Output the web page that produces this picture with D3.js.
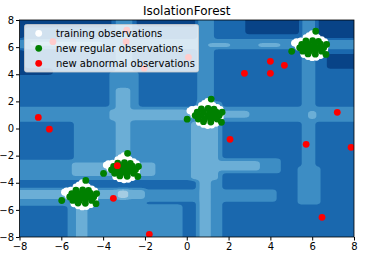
<!DOCTYPE html>
<html>
<head>
<meta charset="utf-8">
<script src="https://cdn.jsdelivr.net/npm/d3@7"></script>
<style>
body { margin: 0; background: #fff; }
text { font-family: "DejaVu Sans", sans-serif; }
</style>
</head>
<body>
<div id="root"></div>
<script>
// cluster centres (same on both axes) and point offsets around a centre
var clusterCenters = [-5, -3, 1, 6];

var trainOffsets = [
    [0, 1.0], [-0.15, 0.85], [0.15, 0.85], [-0.3, 0.7], [0.25, 0.7], [0.0, 0.7],
    [-0.85, 0.3], [-0.75, 0.4], [-0.7, 0.15], [-0.65, 0.0], [-0.55, 0.45],
    [-0.4, -0.55], [-0.2, -0.7], [0.0, -0.78], [0.2, -0.75], [0.4, -0.62], [-0.05, -0.6], [0.55, -0.45],
    [0.6, 0.4], [0.65, 0.1], [0.6, -0.2], [0.45, 0.55],
    [-0.4, 0.3], [0.0, 0.3], [0.3, 0.3], [-0.45, -0.2], [0.0, -0.2], [0.3, -0.2], [-0.2, 0.05], [0.2, 0.05]
];

var testOffsets = [
    [0.17, 1.17], [-0.98, -0.31], [0.66, -0.54], [0.69, 0.2],
    [-0.3, 0.45], [0.02, 0.48], [0.3, 0.43],
    [-0.5, 0.2], [-0.2, 0.22], [0.1, 0.18], [0.4, 0.22],
    [-0.6, -0.05], [-0.3, -0.03], [0.0, -0.06], [0.3, -0.04], [0.55, -0.05],
    [-0.45, -0.3], [-0.15, -0.32], [0.15, -0.28], [0.45, -0.3],
    [-0.2, -0.5], [0.15, -0.52]
];

var outliers = [
    [-7.1, 0.82], [-6.57, -0.05], [-6.4, 6.4], [-2.87, 7.26], [-2.9, 6.4],
    [-2.04, 4.44], [0.08, 5.25], [-3.32, -2.74], [-3.51, -5.15], [-1.79, -7.8],
    [2.07, -0.8], [2.76, 4.07], [4.0, 4.95], [4.0, 4.07], [4.67, 4.66],
    [7.2, 1.19], [5.71, -1.17], [7.86, -1.39], [6.47, -6.55]
];

// decision-function regions: [x0, x1, y0, y1, level]
var bgCells = [
    [-8, -3.6, 7.45, 8, 0], [-8, -7.75, 3.95, 8, 0], [-8, -6.4, 3.95, 4.45, 0],
    [-2.4, 0.45, 7.5, 8, 0], [2.8, 5.4, 6.95, 8, 0], [6.3, 8, 6.6, 8, 0], [6.7, 8, 4.4, 5.5, 0],

    [-5.7, -4.7, -8, -4.3, 2], [-4.7, -0.2, -8, -5.6, 2], [-3.7, -2.3, -2.4, 4.2, 2],
    [-3.4, -2.6, 4.2, 8, 2], [0.45, 1.7, -8, 2, 2], [0.5, 1.3, 2, 8, 2],
    [5.5, 6.15, -2.8, 8, 2], [5.3, 6.4, -5.6, -2.8, 2], [-5.4, 0.45, -2.4, 0.5, 2],
    [-8, 8, 5.85, 6.6, 2], [-8, 8, 0.5, 1.6, 2], [-8, 0.5, -3.8, -2.3, 2],
    [0.5, 4.5, -3.3, -2.2, 2], [-8, -2, -5.7, -4.4, 2], [-2, 4.3, -5.4, -4.5, 2],

    [-5.3, -4.75, -8, -4.4, 3], [-3.4, -2.7, -2.4, 3.0, 3], [-3.7, 0, 0.6, 1.4, 3],
    [0, 3.0, 0.8, 1.3, 3], [5.8, 6.2, 0.7, 1.3, 3], [0.2, 1.5, -3.8, 0.5, 3],
    [0.6, 1.15, -8, -3.8, 3], [-5.5, -1.5, -3.5, -2.5, 3], [1.5, 3.5, -3.1, -2.4, 3],
    [-8, -2, -5.2, -4.5, 3], [-7.5, -4, 6.1, 6.4, 3], [3.4, 4.5, 6.0, 6.3, 3],
    [1, 2.1, 6.0, 6.3, 3],

    [-3.3, -2.8, -5.2, -4.5, 4],
    [-5.5, -4.6, -5.4, -4.4, 4], [-3.5, -2.6, -3.4, -2.4, 4],
    [0.5, 1.4, 0.6, 1.6, 4], [5.5, 6.4, 5.6, 6.6, 4]
];

var levelColors = ["#084387", "#1a68ae", "#3d8dc4", "#6baed6", "#a4cce3", "#cde0f1", "#e9f2fa"];
var ticks = [-8, -6, -4, -2, 0, 2, 4, 6, 8];

var width = 373, height = 262;
var margin = {top: 20, right: 19, bottom: 25, left: 19.5};

var x = d3.scaleLinear().domain([-8, 8]).range([margin.left, width - margin.right]);
var y = d3.scaleLinear().domain([-8, 8]).range([height - margin.bottom, margin.top]);

var svg = d3.select("#root").append("svg")
    .attr("width", width)
    .attr("height", height);

svg.append("defs").append("clipPath").attr("id", "plot")
    .append("rect")
    .attr("x", x(-8)).attr("y", y(8))
    .attr("width", x(8) - x(-8)).attr("height", y(-8) - y(8));

var plot = svg.append("g").attr("clip-path", "url(#plot)");

// rasterise the regions on a fine grid, soften the corners, then contour
var n = 320, step = 16 / n;
var grid = new Float64Array(n * n);
for (var j = 0; j < n; j++) {
    var gy = -8 + (j + 0.5) * step;
    for (var i = 0; i < n; i++) {
        var gx = -8 + (i + 0.5) * step, v = 1;
        bgCells.forEach(function (c) {
            if (gx >= c[0] && gx <= c[1] && gy >= c[2] && gy <= c[3]) {
                v = c[4] === 0 ? Math.min(v, 0) : Math.max(v, c[4]);
            }
        });
        grid[j * n + i] = v;
    }
}

function boxBlur(src, r) {
    var tmp = new Float64Array(n * n), out = new Float64Array(n * n);
    for (var j = 0; j < n; j++) for (var i = 0; i < n; i++) {
        var s = 0, k = 0;
        for (var d = -r; d <= r; d++) { var ii = i + d; if (ii >= 0 && ii < n) { s += src[j * n + ii]; k++; } }
        tmp[j * n + i] = s / k;
    }
    for (var j2 = 0; j2 < n; j2++) for (var i2 = 0; i2 < n; i2++) {
        var s2 = 0, k2 = 0;
        for (var d2 = -r; d2 <= r; d2++) { var jj = j2 + d2; if (jj >= 0 && jj < n) { s2 += tmp[jj * n + i2]; k2++; } }
        out[j2 * n + i2] = s2 / k2;
    }
    return out;
}
grid = boxBlur(boxBlur(grid, 2), 2);

var contours = d3.contours().size([n, n])
    .thresholds([0.5, 1.5, 2.5, 3.5, 4.5, 5.5])(Array.from(grid));

var toScreen = d3.geoPath(d3.geoTransform({
    point: function (px, py) {
        this.stream.point(x(-8 + px * step), y(-8 + py * step));
    }
}));

plot.append("rect")
    .attr("x", x(-8)).attr("y", y(8))
    .attr("width", x(8) - x(-8)).attr("height", y(-8) - y(8))
    .attr("fill", levelColors[0]);

plot.selectAll(".level")
    .data(contours)
    .enter().append("path")
    .attr("class", "level")
    .attr("d", toScreen)
    .attr("fill", function (d, i) { return levelColors[i + 1]; });

function spread(offsets) {
    var pts = [];
    clusterCenters.forEach(function (c) {
        offsets.forEach(function (o) { pts.push([c + o[0], c + o[1]]); });
    });
    return pts;
}

function dots(data, color) {
    plot.append("g").selectAll("circle")
        .data(data)
        .enter().append("circle")
        .attr("cx", function (d) { return x(d[0]); })
        .attr("cy", function (d) { return y(d[1]); })
        .attr("r", 3.4)
        .attr("fill", color);
}

dots(spread(trainOffsets), "white");
dots(spread(testOffsets), "green");
dots(outliers, "red");

// axes
var xAxis = svg.append("g")
    .attr("transform", "translate(0," + y(-8) + ")")
    .call(d3.axisBottom(x).tickValues(ticks).tickSize(3.5).tickPadding(2));
var yAxis = svg.append("g")
    .attr("transform", "translate(" + x(-8) + ",0)")
    .call(d3.axisLeft(y).tickValues(ticks).tickSize(3.5).tickPadding(2));
[xAxis, yAxis].forEach(function (a) {
    a.selectAll("text").style("font-size", "10px").attr("fill", "#000");
    a.select(".domain").remove();
});

svg.append("rect")
    .attr("x", x(-8)).attr("y", y(8))
    .attr("width", x(8) - x(-8)).attr("height", y(-8) - y(8))
    .attr("fill", "none").attr("stroke", "#000").attr("stroke-width", 0.8);

svg.append("text")
    .attr("x", (x(-8) + x(8)) / 2)
    .attr("y", 14.5)
    .attr("text-anchor", "middle")
    .style("font-size", "12px")
    .text("IsolationForest");

// legend
var legendItems = ["training observations", "new regular observations", "new abnormal observations"];
var legendColors = ["white", "green", "red"];

var legend = svg.append("g");
legend.append("rect")
    .attr("x", 24.5).attr("y", 24.5)
    .attr("width", 174).attr("height", 47.5)
    .attr("rx", 2)
    .attr("fill", "white").attr("fill-opacity", 0.8)
    .attr("stroke", "#ccc").attr("stroke-opacity", 0.8);

var rows = legend.selectAll(".row")
    .data(legendItems)
    .enter().append("g")
    .attr("transform", function (d, i) { return "translate(0," + (33.3 + i * 15) + ")"; });
rows.append("circle")
    .attr("cx", 38.7).attr("r", 3.4)
    .attr("fill", function (d, i) { return legendColors[i]; });
rows.append("text")
    .attr("x", 56).attr("dy", "0.35em")
    .style("font-size", "10px")
    .text(function (d) { return d; });
</script>
</body>
</html>
